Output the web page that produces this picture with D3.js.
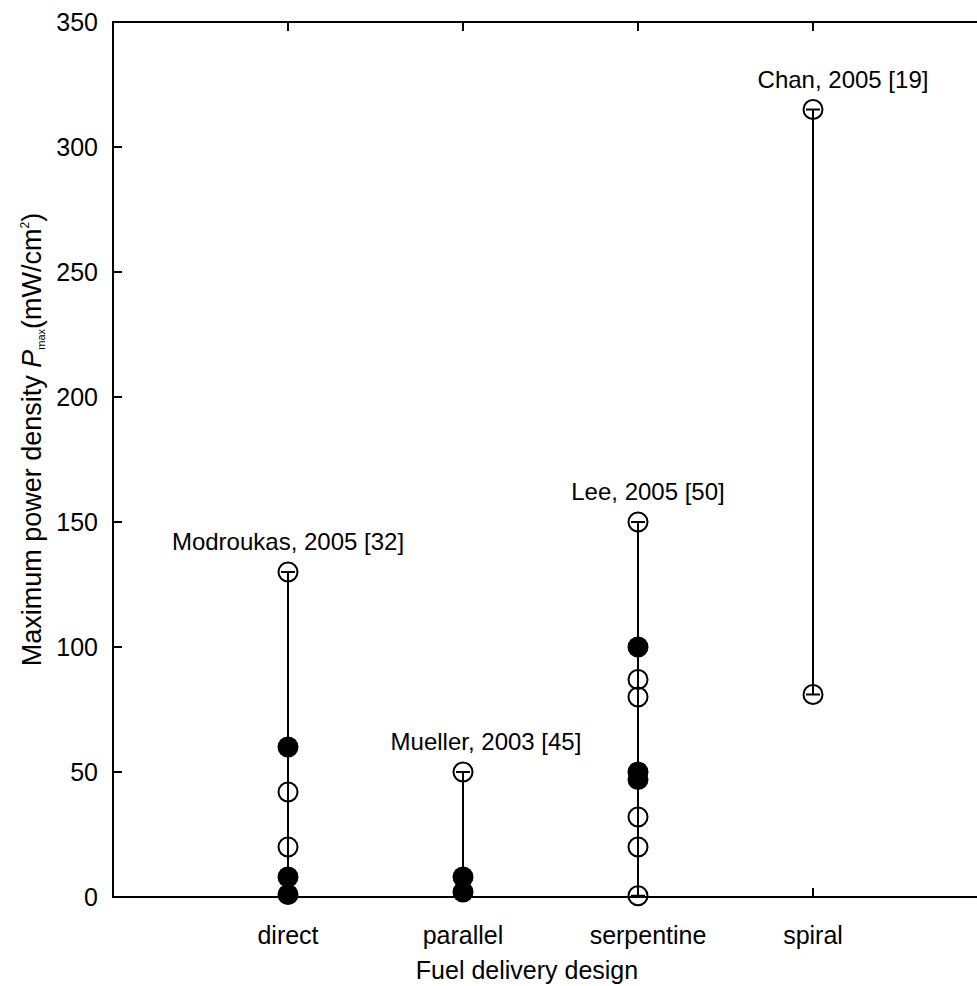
<!DOCTYPE html>
<html>
<head>
<meta charset="utf-8">
<script src="https://cdn.jsdelivr.net/npm/d3@7"></script>
<style>
  body { margin: 0; background: #fff; }
  svg { display: block; font-family: "Liberation Sans", Arial, sans-serif; }
</style>
</head>
<body>
<svg id="chart" width="977" height="986"></svg>
<script>
// categories on the x axis (positions 1..4)
const designs = ["direct", "parallel", "serpentine", "spiral"];

// open circles
const openPoints = [
    { design: "direct", value: 130 },
    { design: "direct", value: 42 },
    { design: "direct", value: 20 },
    { design: "parallel", value: 50 },
    { design: "serpentine", value: 150 },
    { design: "serpentine", value: 87 },
    { design: "serpentine", value: 80 },
    { design: "serpentine", value: 32 },
    { design: "serpentine", value: 20 },
    { design: "serpentine", value: 0.5 },
    { design: "spiral", value: 315 },
    { design: "spiral", value: 81 }
];

// filled circles
const filledPoints = [
    { design: "direct", value: 60 },
    { design: "direct", value: 8 },
    { design: "direct", value: 1 },
    { design: "parallel", value: 8 },
    { design: "parallel", value: 2 },
    { design: "serpentine", value: 100 },
    { design: "serpentine", value: 50 },
    { design: "serpentine", value: 47 }
];

// annotation of the top study for each design
const notes = [
    { design: "direct", value: 130, text: "Modroukas, 2005 [32]" },
    { design: "parallel", value: 50, text: "Mueller, 2003 [45]" },
    { design: "serpentine", value: 150, text: "Lee, 2005 [50]" },
    { design: "spiral", value: 315, text: "Chan, 2005 [19]" }
];

const yTicks = [0, 50, 100, 150, 200, 250, 300, 350];

const svg = d3.select("#chart");
const margin = { top: 22, left: 113, bottom: 89 };
const innerHeight = 986 - margin.top - margin.bottom;

// x scale: category index 0..5, last column falls outside the window
const x = d3.scaleLinear().domain([0, 5]).range([margin.left, margin.left + 875]);
const xPos = d => x(designs.indexOf(d) + 1);
const y = d3.scaleLinear().domain([0, 350]).range([margin.top + innerHeight, margin.top]);

const tickLen = 9;
const fontSize = 25;

// frame
const frame = svg.append("g").attr("stroke", "#000").attr("stroke-width", 2).attr("fill", "none");
frame.append("path")
    .attr("d", `M${x(5)},${y(350)}H${x(0)}V${y(0)}H${x(5)}`);

// left axis ticks (inward)
frame.selectAll(".yt").data(yTicks.slice(1, -1)).enter().append("line")
    .attr("x1", x(0)).attr("x2", x(0) + tickLen)
    .attr("y1", d => y(d)).attr("y2", d => y(d));

// top and bottom ticks at the categories
frame.selectAll(".xtb").data(designs).enter().append("line")
    .attr("x1", d => xPos(d)).attr("x2", d => xPos(d))
    .attr("y1", y(0)).attr("y2", y(0) - tickLen);
frame.selectAll(".xtt").data(designs).enter().append("line")
    .attr("x1", d => xPos(d)).attr("x2", d => xPos(d))
    .attr("y1", y(350)).attr("y2", y(350) + tickLen);

// y tick labels
svg.append("g").selectAll("text").data(yTicks).enter().append("text")
    .attr("x", x(0) - 15)
    .attr("y", d => y(d))
    .attr("dy", "0.35em")
    .attr("text-anchor", "end")
    .style("font-size", fontSize + "px")
    .text(d => d);

// x tick labels
svg.append("g").selectAll("text").data(designs).enter().append("text")
    .attr("x", (d, i) => xPos(d) + [0, 0, 10, 0][i])
    .attr("y", y(0) + 47)
    .attr("text-anchor", "middle")
    .style("font-size", fontSize + "px")
    .text(d => d);

// axis titles
svg.append("text")
    .attr("x", 527).attr("y", 979)
    .attr("text-anchor", "middle")
    .style("font-size", fontSize + "px")
    .text("Fuel delivery design");

const yTitle = svg.append("text")
    .attr("transform", `translate(41, ${y(183)}) rotate(-90)`)
    .attr("text-anchor", "middle")
    .style("font-size", "27px");
yTitle.append("tspan").text("Maximum power density ");
yTitle.append("tspan").style("font-style", "italic").text("P");
yTitle.append("tspan").style("font-size", "11px").attr("dy", 4).text("max");
yTitle.append("tspan").attr("dy", -4).text("(mW/cm");
yTitle.append("tspan").style("font-size", "12px").attr("dy", -12).text("2");
yTitle.append("tspan").attr("dy", 12).text(")");

// range lines with caps, one per design
const all = openPoints.concat(filledPoints);
const ranges = designs.map(d => {
    const vals = all.filter(p => p.design === d).map(p => p.value);
    return { design: d, min: d3.min(vals), max: d3.max(vals) };
});
const capW = 7;
const rangeG = svg.append("g").attr("stroke", "#000").attr("stroke-width", 2);
ranges.forEach(r => {
    const cx = xPos(r.design);
    rangeG.append("line").attr("x1", cx).attr("x2", cx).attr("y1", y(r.min)).attr("y2", y(r.max));
    rangeG.append("line").attr("x1", cx - capW).attr("x2", cx + capW).attr("y1", y(r.min)).attr("y2", y(r.min));
    rangeG.append("line").attr("x1", cx - capW).attr("x2", cx + capW).attr("y1", y(r.max)).attr("y2", y(r.max));
});

const radius = 9.5;
svg.append("g").selectAll("circle").data(openPoints).enter().append("circle")
    .attr("cx", d => xPos(d.design))
    .attr("cy", d => y(d.value))
    .attr("r", radius)
    .attr("fill", "none")
    .attr("stroke", "#000")
    .attr("stroke-width", 2);

svg.append("g").selectAll("circle").data(filledPoints).enter().append("circle")
    .attr("cx", d => xPos(d.design))
    .attr("cy", d => y(d.value))
    .attr("r", radius + 1)
    .attr("fill", "#000");

// annotations
svg.append("g").selectAll("text").data(notes).enter().append("text")
    .attr("x", (d, i) => xPos(d.design) + [0, 23, 10, 30][i])
    .attr("y", d => y(d.value) - 22)
    .attr("text-anchor", "middle")
    .style("font-size", (fontSize - 1) + "px")
    .text(d => d.text);
</script>
</body>
</html>
